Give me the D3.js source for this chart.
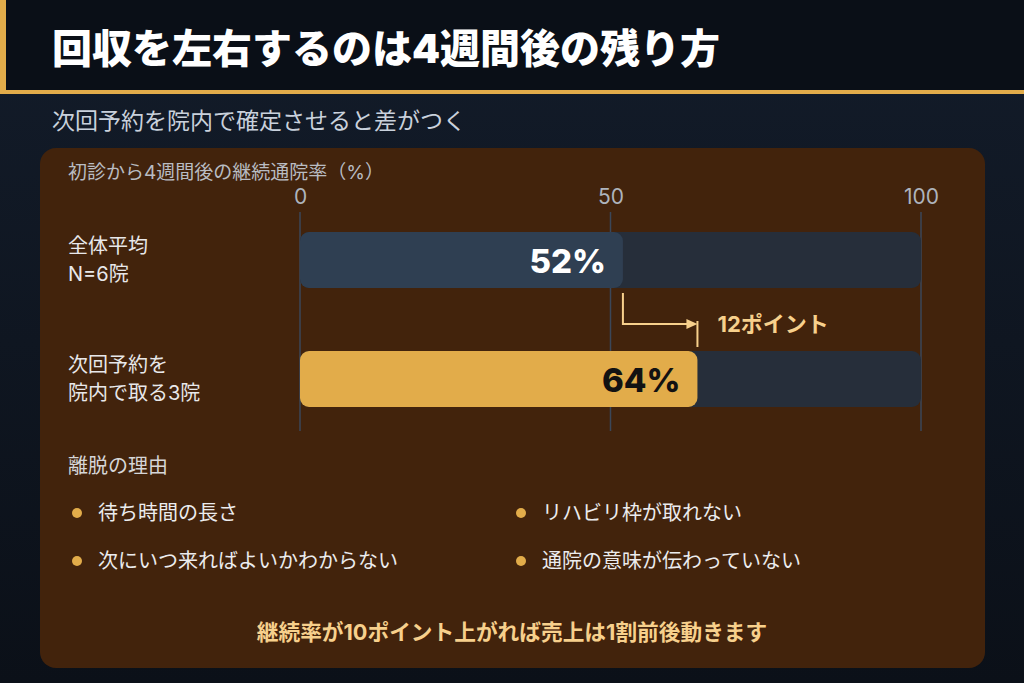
<!DOCTYPE html>
<html><head><meta charset="utf-8">
<script src="https://cdn.jsdelivr.net/npm/d3@7/dist/d3.min.js"></script>
<style>
html,body{margin:0;padding:0;background:#0d141e;}
svg{display:block;font-family:Inter,"Noto Sans CJK JP","Noto Sans",sans-serif;}
</style></head>
<body>
<svg id="c" width="1024" height="683"></svg>
<script>
const title = "回収を左右するのは4週間後の残り方";
const subtitle = "次回予約を院内で確定させると差がつく";
const axisTitle = "初診から4週間後の継続通院率（%）";
const categories = [["全体平均", "N=6院"], ["次回予約を", "院内で取る3院"]];
const values = [52, 64];
const valueLabels = ["52%", "64%"];
const tickValues = [0, 50, 100];
const diffLabel = "12ポイント";
const reasonsTitle = "離脱の理由";
const reasons = ["待ち時間の長さ", "リハビリ枠が取れない", "次にいつ来ればよいかわからない", "通院の意味が伝わっていない"];
const footer = "継続率が10ポイント上がれば売上は1割前後動きます";

const svg = d3.select("#c");
const W = 1024, H = 683;
const defs = svg.append("defs");
const bg = defs.append("linearGradient").attr("id","bg").attr("x1",0).attr("y1",0).attr("x2",0).attr("y2",1);
bg.append("stop").attr("offset","0%").attr("stop-color","#131c2a");
bg.append("stop").attr("offset","100%").attr("stop-color","#0b1018");
svg.append("rect").attr("width",W).attr("height",H).attr("fill","url(#bg)");

// header
svg.append("rect").attr("x",0).attr("y",0).attr("width",W).attr("height",90).attr("fill","#0a0f17");
svg.append("rect").attr("x",0).attr("y",90).attr("width",W).attr("height",4).attr("fill","#e2ac4a");
svg.append("rect").attr("x",0).attr("y",0).attr("width",6).attr("height",94).attr("fill","#e2ac4a");
svg.append("text").attr("x",52).attr("y",48).attr("dominant-baseline","central")
  .attr("font-size",40).attr("font-weight",900).attr("fill","#ffffff").text(title);
svg.append("text").attr("x",52).attr("y",121).attr("dominant-baseline","central")
  .attr("font-size",23).attr("fill","#c9d1dc").text(subtitle);

// panel
svg.append("rect").attr("x",40).attr("y",148).attr("width",945).attr("height",520).attr("rx",16)
  .attr("fill","#42230c");

svg.append("text").attr("x",68).attr("y",172).attr("dominant-baseline","central")
  .attr("font-size",19).attr("fill","#b9bcc2").text(axisTitle);

const x = d3.scaleLinear().domain([0,100]).range([300,921]);
const y = d3.scalePoint().domain(d3.range(values.length)).range([260,379]);

// gridlines
svg.append("g").selectAll("line").data(tickValues).join("line")
  .attr("x1",d=>x(d)).attr("x2",d=>x(d)).attr("y1",212).attr("y2",431)
  .attr("stroke","#3b4759").attr("stroke-width",1.5);
const axis = d3.axisTop(x).tickValues(tickValues).tickSize(0).tickPadding(0);
const ag = svg.append("g").attr("transform","translate(0,197)").call(axis);
ag.select(".domain").remove();
ag.selectAll("text").attr("font-size",21).attr("fill","#aeb4bd").attr("dy","0.35em")
  .attr("font-family","Inter,'Noto Sans CJK JP',sans-serif");

const bandH = 56;
const rowY = i => y(i);

// tracks
svg.append("g").selectAll("rect").data(values).join("rect")
  .attr("x",x(0)).attr("y",(d,i)=>rowY(i)-bandH/2).attr("width",x(100)-x(0)).attr("height",bandH)
  .attr("rx",9).attr("fill","#262e3a");
// bars
const barColors = ["#2f3f52","#e2ac4a"];
const labelColors = ["#ffffff","#121212"];
svg.append("g").selectAll("rect").data(values).join("rect")
  .attr("x",x(0)).attr("y",(d,i)=>rowY(i)-bandH/2).attr("width",d=>x(d)-x(0)).attr("height",bandH)
  .attr("rx",9).attr("fill",(d,i)=>barColors[i]);
svg.append("g").selectAll("text").data(values).join("text")
  .attr("x",d=>x(d)-17).attr("y",(d,i)=>rowY(i)+1).attr("text-anchor","end").attr("dominant-baseline","central")
  .attr("font-size",33).attr("font-weight",800).attr("fill",(d,i)=>labelColors[i]).text((d,i)=>valueLabels[i]);

// category labels
categories.forEach((lines,i)=>{
  const t = svg.append("text").attr("font-size",20).attr("fill","#e8e8ea");
  lines.forEach((s,j)=>{
    t.append("tspan").attr("x",68).attr("y",rowY(i)+(j-0.5)*28).attr("dominant-baseline","central").text(s);
  });
});

// arrow
const x0 = x(values[0]), x1 = x(values[1]);
const ay = 324, col = "#f7d08c";
svg.append("path").attr("d",`M${x0},${rowY(0)+bandH/2+5} V${ay} H${x1-8}`)
  .attr("fill","none").attr("stroke",col).attr("stroke-width",2);
svg.append("path").attr("d",`M${x1-11},${ay-5} L${x1},${ay} L${x1-11},${ay+5} Z`).attr("fill",col);
svg.append("line").attr("x1",x1).attr("x2",x1).attr("y1",ay-3).attr("y2",rowY(1)-bandH/2-4)
  .attr("stroke",col).attr("stroke-width",2);
svg.append("text").attr("x",x1+20).attr("y",ay).attr("dominant-baseline","central")
  .attr("font-size",22).attr("font-weight",700).attr("fill",col).text(diffLabel);

// reasons
svg.append("text").attr("x",68).attr("y",466).attr("dominant-baseline","central")
  .attr("font-size",20).attr("fill","#d6d6d8").text(reasonsTitle);
const rg = svg.append("g").selectAll("g").data(reasons).join("g")
  .attr("transform",(d,i)=>`translate(${i%2===0?77:521},${513+Math.floor(i/2)*48})`);
rg.append("circle").attr("r",5).attr("fill","#e2ac4a");
rg.append("text").attr("x",21).attr("dominant-baseline","central").attr("font-size",20)
  .attr("fill","#ececee").text(d=>d);

svg.append("text").attr("x",512).attr("y",632).attr("text-anchor","middle").attr("dominant-baseline","central")
  .attr("font-size",21.7).attr("font-weight",700).attr("fill","#f7d08c").text(footer);
</script>
</body></html>
